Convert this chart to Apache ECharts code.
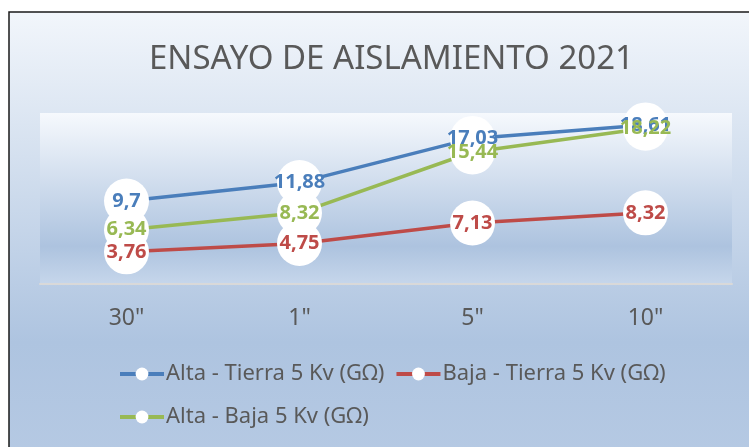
<!DOCTYPE html>
<html>
<head>
<meta charset="utf-8">
<script src="https://cdn.jsdelivr.net/npm/echarts@6/dist/echarts.min.js"></script>
<style>
  html, body { margin: 0; padding: 0; background: #ffffff; }
  #chart { width: 749px; height: 447px; }
</style>
</head>
<body>
<div id="chart"></div>
<script>
// Insulation test readings (GΩ) at each time step
const categories = ['30"', '1"', '5"', '10"'];
const altaTierra = [9.7, 11.88, 17.03, 18.61];
const bajaTierra = [3.76, 4.75, 7.13, 8.32];
const altaBaja = [6.34, 8.32, 15.44, 18.22];
const seriesNames = ['Alta - Tierra 5 Kv (GΩ)', 'Baja - Tierra 5 Kv (GΩ)', 'Alta - Baja 5 Kv (GΩ)'];
const seriesColors = ['#4a7ebb', '#be4b48', '#98b954'];

const textGray = '#595959';
const font = 'Noto Sans';

function lineSeries(name, data, color) {
  return {
    name: name,
    type: 'line',
    data: data,
    symbol: 'circle',
    symbolSize: 45,
    lineStyle: { color: color, width: 3.5 },
    itemStyle: { color: '#ffffff', borderWidth: 0 },
    emphasis: { disabled: true },
    label: {
      show: true,
      position: 'inside',
      color: color,
      fontFamily: font,
      fontWeight: 'bold',
      fontSize: 20,
      formatter: p => String(p.value).replace('.', ',')
    },
    z: 3
  };
}

// shared legend look; two legends give the two rows their spacing
function legendRow(names, top) {
  return {
    data: names,
    left: 113,
    top: top,
    itemWidth: 44,
    itemHeight: 16,
    itemGap: 10,
    lineStyle: { width: 4 },
    textStyle: { fontFamily: font, fontSize: 22, color: textGray, padding: [0, 0, 0, -3] }
  };
}

const chart = echarts.init(document.getElementById('chart'), null, { renderer: 'canvas' });
chart.setOption({
  animation: false,
  backgroundColor: '#ffffff',
  graphic: [{
    type: 'rect',
    z: -10,
    silent: true,
    shape: { x: 9, y: 12, width: 800, height: 500 },
    style: {
      fill: new echarts.graphic.LinearGradient(0, 0, 0, 1, [
        { offset: 0, color: '#f2f6fb' },
        { offset: 0.66, color: '#aec4e0' },
        { offset: 1, color: '#b9cce5' }
      ]),
      stroke: '#1a1a1a',
      lineWidth: 1.5
    }
  }],
  title: {
    text: 'ENSAYO DE AISLAMIENTO 2021',
    left: 144,
    top: 38,
    textStyle: { fontFamily: font, fontWeight: 'normal', fontSize: 33, color: textGray }
  },
  grid: {
    left: 40, right: 17, top: 113, bottom: 163,
    show: true,
    borderWidth: 0,
    backgroundColor: new echarts.graphic.LinearGradient(0, 0, 0, 1, [
      { offset: 0, color: '#f6f9fd' },
      { offset: 0.78, color: '#adc3df' },
      { offset: 1, color: '#c6d6eb' }
    ])
  },
  legend: [
    legendRow([seriesNames[0], seriesNames[1]], 358),
    legendRow([seriesNames[2]], 401)
  ],
  xAxis: {
    type: 'category',
    data: categories,
    boundaryGap: true,
    axisLine: { lineStyle: { color: '#d9d9d9', width: 2 } },
    axisTick: { show: false },
    axisLabel: { margin: 23, fontFamily: font, fontSize: 23, color: textGray }
  },
  yAxis: {
    type: 'value',
    min: 0,
    max: 20,
    interval: 5,
    show: false,
    splitLine: { show: false }
  },
  series: [
    lineSeries(seriesNames[0], altaTierra, seriesColors[0]),
    lineSeries(seriesNames[1], bajaTierra, seriesColors[1]),
    lineSeries(seriesNames[2], altaBaja, seriesColors[2])
  ]
});
</script>
</body>
</html>
